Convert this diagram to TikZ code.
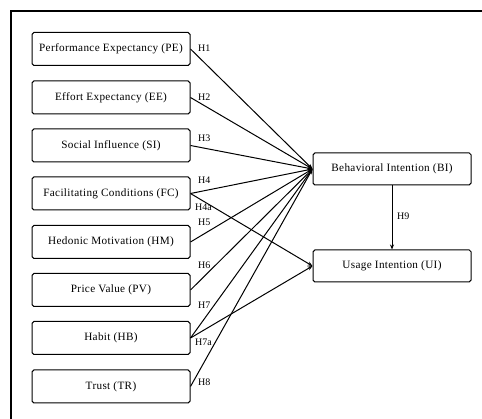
\documentclass[tikz,border=0pt]{standalone}
\usepackage{fontspec}
\setmainfont{Liberation Serif}
\newfontfamily\boxfont[LetterSpace=3]{Liberation Serif}
\usetikzlibrary{arrows.meta}
\begin{document}
\begin{tikzpicture}[x=1pt,y=-1pt,
  box/.style={draw, line width=1pt, rounded corners=1.8pt, minimum width=158pt, minimum height=33pt, inner sep=0pt, font=\boxfont\fontsize{11.2}{13}\selectfont},
  hlab/.style={anchor=west, inner sep=0pt, font=\fontsize{10}{12}\selectfont},
  conn/.style={line width=1pt, -{Stealth[length=5pt,width=4pt]}}]
\useasboundingbox (0,0) rectangle (482,419);
\fill[white] (0,0) rectangle (482,419);
\draw[line width=2.4pt] (11,440) -- (11,11) -- (500,11);
\node[box] (PE) at (111,49) {Performance Expectancy (PE)};
\node[box] (EE) at (111,97.5) {Effort Expectancy (EE)};
\node[box] (SI) at (111,145.5) {Social Influence (SI)};
\node[box] (FC) at (111,193.5) {Facilitating Conditions (FC)};
\node[box] (HM) at (111,242) {Hedonic Motivation (HM)};
\node[box] (PV) at (111,290) {Price Value (PV)};
\node[box] (HB) at (111,338) {Habit (HB)};
\node[box] (TR) at (111,386.5) {Trust (TR)};
\node[box, minimum height=32pt] (BI) at (392,169) {Behavioral Intention (BI)};
\node[box, minimum height=32pt] (UI) at (392,266) {Usage Intention (UI)};
\foreach \n in {PE,EE,SI,FC,HM,PV,HB,TR} \draw[conn] (\n.east) -- (BI.west);
\draw[conn] (FC.east) -- (UI.west);
\draw[conn] (HB.east) -- (UI.west);
\draw[conn] (BI.south) -- (UI.north);
\node[hlab] (h1) at (198,48) {H1};
\node[hlab] (h2) at (198,97) {H2};
\node[hlab] (h3) at (198,138) {H3};
\node[hlab] (h4) at (198,180) {H4};
\node[hlab] (h4a) at (195,207) {H4a};
\node[hlab] (h5) at (198,222) {H5};
\node[hlab] (h6) at (198,265) {H6};
\node[hlab] (h7) at (198,305) {H7};
\node[hlab] (h7a) at (195,342) {H7a};
\node[hlab] (h8) at (198,382) {H8};
\node[hlab] (h9) at (397,216) {H9};
\end{tikzpicture}
\end{document}
